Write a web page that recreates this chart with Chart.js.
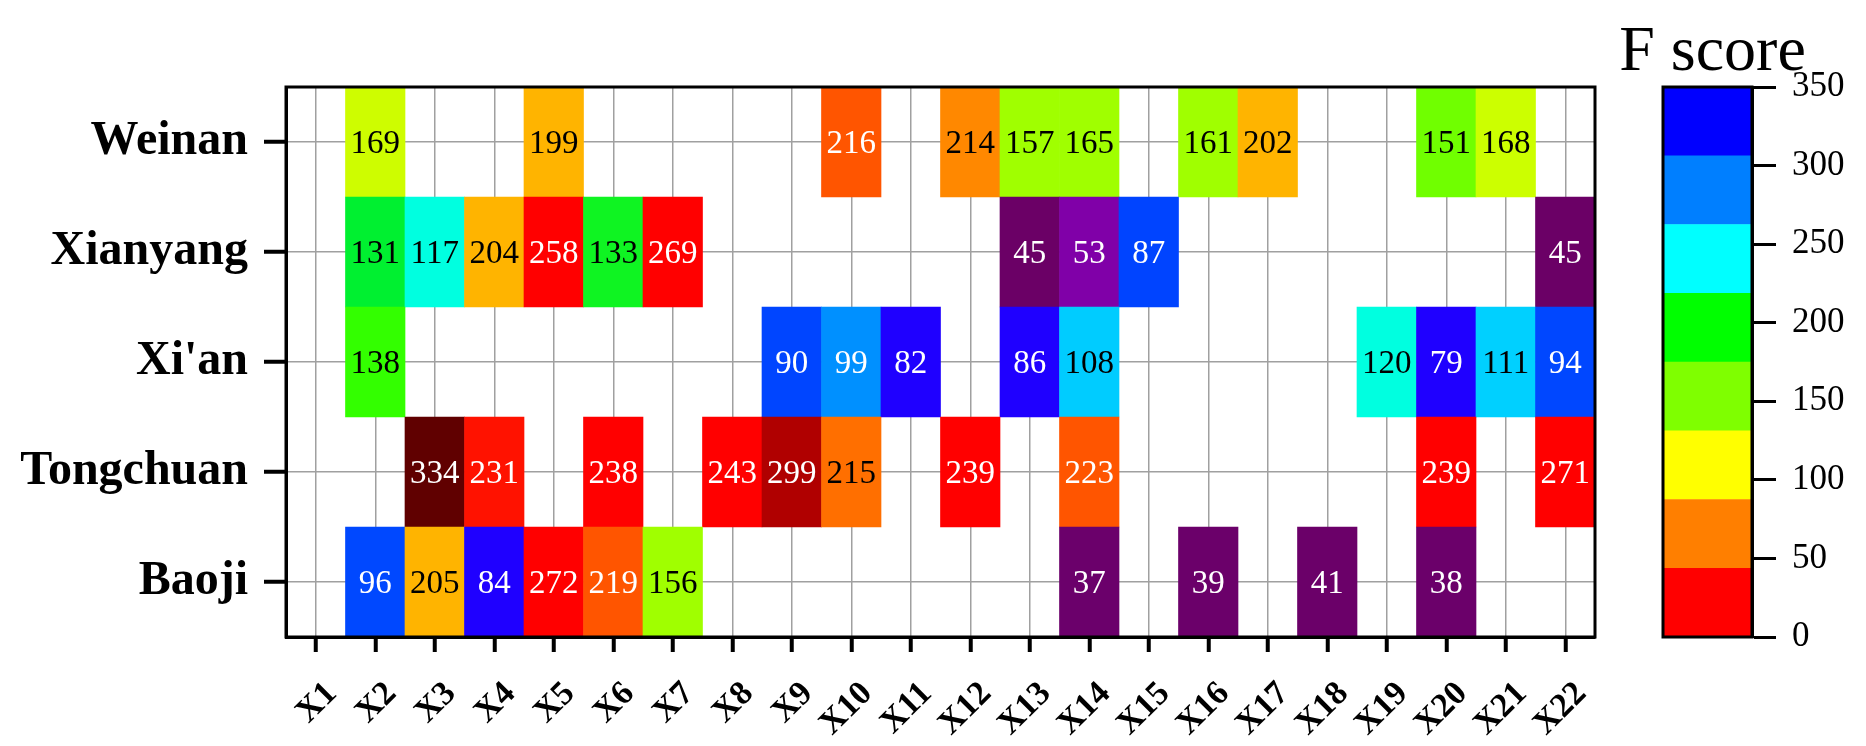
<!DOCTYPE html>
<html lang="en">
<head>
<meta charset="UTF-8">
<title>F score by city and factor</title>
<style>
  body { margin: 0; background: #fff; }
  #wrap { position: relative; width: 1866px; height: 746px; }
  #heat { position: absolute; left: 0; top: 0; }
  #bar { position: absolute; left: 1620px; top: 0; }
</style>
<script src="https://cdn.jsdelivr.net/npm/chart.js"></script>
</head>
<body>
<div id="wrap">
  <canvas id="heat" width="1620" height="746"></canvas>
  <canvas id="bar" width="246" height="746"></canvas>
</div>
<script>
// cities, bottom row first
const cities = ['Baoji', 'Tongchuan', "Xi'an", 'Xianyang', 'Weinan'];
const factors = ['X1','X2','X3','X4','X5','X6','X7','X8','X9','X10','X11',
                 'X12','X13','X14','X15','X16','X17','X18','X19','X20','X21','X22'];

// F score per factor (null = empty cell)
const baoji     = [null, 96, 205, 84, 272, 219, 156, null, null, null, null, null, null, 37, null, 39, null, 41, null, 38, null, null];
const tongchuan = [null, null, 334, 231, null, 238, null, 243, 299, 215, null, 239, null, 223, null, null, null, null, null, 239, null, 271];
const xian      = [null, 138, null, null, null, null, null, null, 90, 99, 82, null, 86, 108, null, null, null, null, 120, 79, 111, 94];
const xianyang  = [null, 131, 117, 204, 258, 133, 269, null, null, null, null, null, 45, 53, 87, null, null, null, null, null, null, 45];
const weinan    = [null, 169, null, null, 199, null, null, null, null, 216, null, 214, 157, 165, null, 161, 202, null, null, 151, 168, null];
const rows = [baoji, tongchuan, xian, xianyang, weinan];

// colorbar bands and ticks
const bandEdges = [0, 43.75, 87.5, 131.25, 175, 218.75, 262.5, 306.25, 350];
const bandColors = ['#ff0000', '#ff7f00', '#ffff00', '#7fff00', '#00ff00', '#00ffff', '#007fff', '#0000ff'];
const barTicks = [0, 50, 100, 150, 200, 250, 300, 350];

// colour stops used for the cells
const cellStops = [
  [37, [107, 0, 107]], [45, [107, 0, 102]], [53, [128, 0, 168]],
  [79, [31, 0, 255]], [86, [31, 0, 255]], [87, [0, 68, 255]], [96, [0, 72, 255]],
  [99, [0, 144, 255]], [108, [0, 204, 255]], [111, [0, 208, 255]],
  [117, [0, 255, 224]], [120, [0, 255, 224]], [131, [0, 240, 48]],
  [138, [51, 255, 0]], [151, [112, 255, 0]], [156, [160, 255, 0]], [165, [160, 255, 0]],
  [168, [204, 255, 0]], [199, [255, 180, 0]], [205, [255, 180, 0]],
  [214, [255, 136, 0]], [216, [255, 85, 0]], [223, [255, 85, 0]],
  [231, [255, 18, 0]], [238, [255, 0, 0]], [272, [255, 0, 0]],
  [299, [176, 0, 0]], [334, [96, 0, 0]]
];

function cellColor(v) {
  if (v <= cellStops[0][0]) return 'rgb(' + cellStops[0][1].join(',') + ')';
  for (let i = 1; i < cellStops.length; i++) {
    const [v1, c1] = cellStops[i];
    if (v <= v1) {
      const [v0, c0] = cellStops[i - 1];
      const t = (v - v0) / (v1 - v0);
      const c = c0.map((a, k) => Math.round(a + (c1[k] - a) * t));
      return 'rgb(' + c.join(',') + ')';
    }
  }
  return 'rgb(' + cellStops[cellStops.length - 1][1].join(',') + ')';
}

function textColor(v) {
  return (v > 215 || v < 100) ? '#fff' : '#000';
}

const serif = "'Liberation Serif', 'Times New Roman', serif";

// draws the value in the middle of each cell
const cellText = {
  id: 'cellText',
  afterDatasetsDraw(chart) {
    const ctx = chart.ctx;
    ctx.save();
    ctx.font = '33px ' + serif;
    ctx.textAlign = 'center';
    ctx.textBaseline = 'middle';
    chart.data.datasets.forEach((ds, i) => {
      const meta = chart.getDatasetMeta(i);
      meta.data.forEach((bar, j) => {
        const v = ds.values[j];
        if (v == null) return;
        ctx.fillStyle = textColor(v);
        ctx.fillText(String(v), bar.x, (bar.y + bar.base) / 2 + 2);
      });
    });
    ctx.restore();
  }
};

// box around the plot area
const frame = {
  id: 'frame',
  afterDraw(chart) {
    const a = chart.chartArea;
    const ctx = chart.ctx;
    ctx.save();
    ctx.strokeStyle = '#000';
    ctx.lineWidth = 3;
    ctx.strokeRect(a.left, a.top, a.right - a.left, a.bottom - a.top);
    ctx.restore();
  }
};

// colorbar heading, centred over the bar
const barTitle = {
  id: 'barTitle',
  afterDraw(chart) {
    const a = chart.chartArea;
    const ctx = chart.ctx;
    ctx.save();
    ctx.font = '64px ' + serif;
    ctx.fillStyle = '#000';
    ctx.textAlign = 'center';
    ctx.textBaseline = 'alphabetic';
    ctx.fillText('F score', (a.left + a.right) / 2 + 5, 70);
    ctx.restore();
  }
};

new Chart(document.getElementById('heat'), {
  type: 'bar',
  data: {
    labels: factors,
    datasets: rows.map((vals, i) => ({
      label: cities[i],
      values: vals,
      data: vals.map(v => v == null ? null : [i - 0.5, i + 0.5]),
      backgroundColor: vals.map(v => v == null ? 'rgba(0,0,0,0)' : cellColor(v)),
      borderWidth: 0,
      grouped: false,
      barPercentage: 1,
      categoryPercentage: 1
    }))
  },
  options: {
    responsive: false,
    animation: false,
    layout: { padding: { left: 0, top: 87, right: 25, bottom: 0 } },
    plugins: { legend: { display: false }, tooltip: { enabled: false } },
    scales: {
      x: {
        grid: { offset: false, color: '#a0a0a0', lineWidth: 1.5, tickColor: '#000', tickLength: 15, tickWidth: 4 },
        border: { color: '#000', width: 3 },
        ticks: {
          color: '#000',
          font: { family: serif, size: 34, weight: 'bold' },
          autoSkip: false,
          minRotation: 45, maxRotation: 45, padding: 22, labelOffset: 16
        },
        afterFit: s => { s.height = 109; }
      },
      y: {
        min: -0.5,
        max: 4.5,
        afterBuildTicks: s => { s.ticks = cities.map((c, i) => ({ value: i })); },
        grid: { color: '#a0a0a0', lineWidth: 1.5, tickColor: '#000', tickLength: 22, tickWidth: 4 },
        border: { color: '#000', width: 3 },
        ticks: {
          color: '#000',
          font: { family: serif, size: 48, weight: 'bold' },
          padding: 16,
          callback: v => cities[v]
        },
        afterFit: s => { s.width = 286; }
      }
    }
  },
  plugins: [cellText, frame]
});

new Chart(document.getElementById('bar'), {
  type: 'bar',
  data: {
    labels: [''],
    datasets: bandColors.map((c, i) => ({
      data: [[bandEdges[i], bandEdges[i + 1]]],
      backgroundColor: c,
      borderWidth: 0,
      grouped: false,
      barPercentage: 1,
      categoryPercentage: 1
    }))
  },
  options: {
    responsive: false,
    animation: false,
    layout: { padding: { left: 43, top: 87, right: 0, bottom: 109 } },
    plugins: { legend: { display: false }, tooltip: { enabled: false } },
    scales: {
      x: { display: false },
      y: {
        position: 'right',
        min: 0,
        max: 350,
        afterBuildTicks: s => { s.ticks = barTicks.map(v => ({ value: v })); },
        grid: { drawOnChartArea: false, tickColor: '#000', tickLength: 24, tickWidth: 3 },
        border: { color: '#000', width: 3 },
        ticks: { color: '#000', font: { family: serif, size: 35 }, padding: 16 },
        afterFit: s => { s.width = 114; }
      }
    }
  },
  plugins: [frame, barTitle]
});
</script>
</body>
</html>
